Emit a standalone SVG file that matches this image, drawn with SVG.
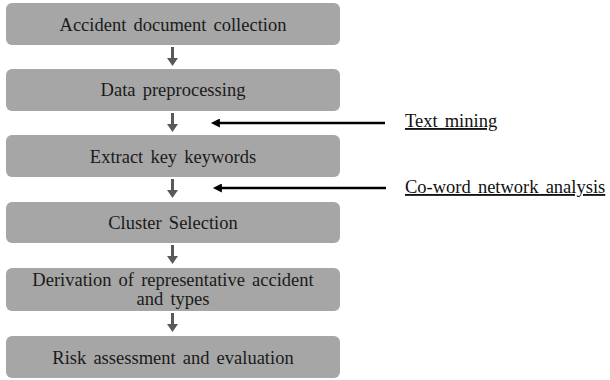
<svg xmlns="http://www.w3.org/2000/svg" width="610" height="380" viewBox="0 0 610 380">
<style>
.box{fill:#a6a6a6;}
.lbl{font-family:"Liberation Serif","Times New Roman",serif;font-size:18.5px;fill:#1a1a1a;text-anchor:middle;word-spacing:2.5px;}
.side{font-family:"Liberation Serif","Times New Roman",serif;font-size:18.5px;fill:#111;text-decoration:underline;word-spacing:2.5px;}
.down{fill:#595959;}
.feed{stroke:#000;stroke-width:2.5;fill:none;}
</style>
<defs>
<marker id="bh" viewBox="0 0 10 10" refX="1" refY="5" markerWidth="4" markerHeight="3.6" orient="auto-start-reverse" markerUnits="strokeWidth">
<path d="M0,0 L10,5 L0,10 Z" fill="#000"/>
</marker>
</defs>
<rect width="610" height="380" fill="#fff"/>
<g id="n1"><rect class="box" x="6" y="3" width="334" height="42" rx="6"/><text class="lbl" x="173" y="31">Accident document collection</text></g>
<g id="n2"><rect class="box" x="6" y="69" width="334" height="42" rx="6"/><text class="lbl" x="173" y="96">Data preprocessing</text></g>
<g id="n3"><rect class="box" x="6" y="135" width="334" height="42" rx="6"/><text class="lbl" x="173" y="163">Extract key keywords</text></g>
<g id="n4"><rect class="box" x="6" y="202" width="334" height="41" rx="6"/><text class="lbl" x="173" y="229">Cluster Selection</text></g>
<g id="n5"><rect class="box" x="6" y="268" width="334" height="43" rx="6"/><text class="lbl" x="173" y="286">Derivation of representative accident</text><text class="lbl" x="173" y="305">and types</text></g>
<g id="n6"><rect class="box" x="6" y="336" width="334" height="42" rx="6"/><text class="lbl" x="173" y="364">Risk assessment and evaluation</text></g>
<g id="t1"><text class="side" x="405" y="127">Text mining</text></g>
<g id="t2"><text class="side" x="405" y="193">Co-word network analysis</text></g>
<g id="connectors">
<path class="down" d="M171,47 h3 v11 h4 l-5.5,8 l-5.5,-8 h4 z"/>
<path class="down" d="M171,113 h3 v11 h4 l-5.5,8 l-5.5,-8 h4 z"/>
<path class="down" d="M171,179 h3 v11 h4 l-5.5,8 l-5.5,-8 h4 z"/>
<path class="down" d="M171,245 h3 v11 h4 l-5.5,8 l-5.5,-8 h4 z"/>
<path class="down" d="M171,313 h3 v11 h4 l-5.5,8 l-5.5,-8 h4 z"/>
<line class="feed" x1="385" y1="123" x2="219" y2="123" marker-end="url(#bh)"/>
<line class="feed" x1="386" y1="188" x2="221" y2="188" marker-end="url(#bh)"/>
</g>
</svg>
